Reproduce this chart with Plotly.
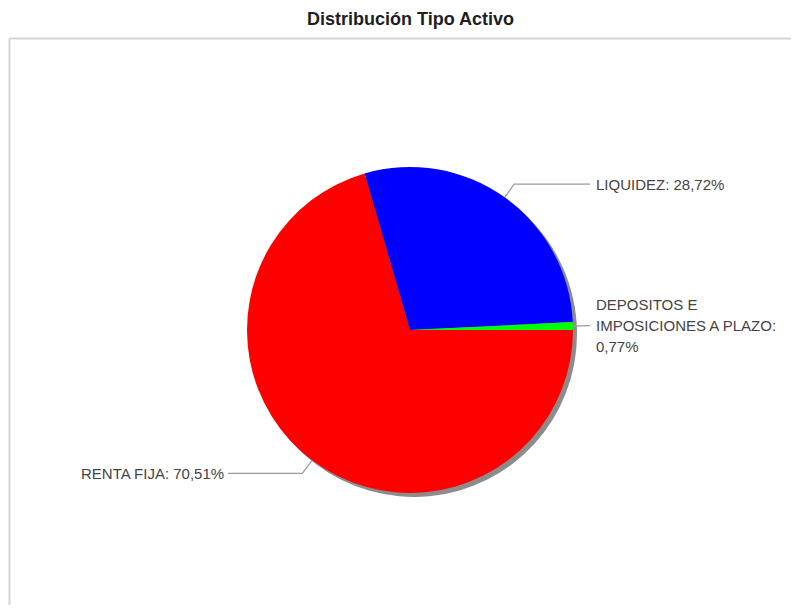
import math
import textwrap
import plotly.graph_objects as go

# ---- data ----
title_text = "Distribución Tipo Activo"
categories = ["RENTA FIJA", "LIQUIDEZ", "DEPOSITOS E IMPOSICIONES A PLAZO"]
values = [70.51, 28.72, 0.77]
colors = ["#ff0000", "#0000ff", "#00ff00"]

# ---- layout constants (pixels in the 799x613 window) ----
OFF = 8                      # page body margin
FW, FH = 799 - 2 * OFF, 613 - 2 * OFF
CX, CY, R = 410, 330, 163
SHADOW = 4
ELBOW = 1.1
RIGHT_LINE_END, RIGHT_TEXT_X = 590, 594
LEFT_LINE_END, LEFT_TEXT_X = 228, 226
LINE_GAP = 21
FONT = "Liberation Sans"


def px(x):
    return (x - OFF) / FW


def py(y):
    return 1 - (y - OFF) / FH


fig = go.Figure()

# shadow pie
fig.add_trace(go.Pie(
    values=values, labels=categories, sort=False,
    direction="clockwise", rotation=90,
    marker=dict(colors=["#8c8c8c"] * len(values), line=dict(width=0)),
    textinfo="none", hoverinfo="skip", showlegend=False,
    domain=dict(x=[px(CX - R + SHADOW), px(CX + R + SHADOW)],
                y=[py(CY + R + SHADOW), py(CY - R + SHADOW)]),
))

# main pie
fig.add_trace(go.Pie(
    values=values, labels=categories, sort=False,
    direction="clockwise", rotation=90,
    marker=dict(colors=colors, line=dict(width=0)),
    textinfo="none", showlegend=False,
    domain=dict(x=[px(CX - R), px(CX + R)],
                y=[py(CY + R), py(CY - R)]),
))

shapes = []
annotations = []

total = sum(values)
cum = 0.0
for cat, val in zip(categories, values):
    start = 90 + cum / total * 360
    mid = math.radians(start + val / total * 180)
    cum += val
    x0 = CX + R * math.sin(mid)
    y0 = CY - R * math.cos(mid)
    x1 = CX + R * ELBOW * math.sin(mid)
    y1 = CY - R * ELBOW * math.cos(mid)
    right = math.sin(mid) >= 0
    x2 = RIGHT_LINE_END if right else LEFT_LINE_END
    path = f"M {px(x0)} {py(y0)} L {px(x1)} {py(y1)} L {px(x2)} {py(y1)}"
    shapes.append(dict(type="path", xref="paper", yref="paper", path=path,
                       line=dict(color="#9a9a9a", width=1.2)))
    label = f"{cat}: {val:.2f}%".replace(".", ",")
    lines = textwrap.wrap(label, 21)
    n = len(lines)
    for i, ln in enumerate(lines):
        ly = y1 + (i - (n - 1) / 2) * LINE_GAP
        annotations.append(dict(
            x=px(RIGHT_TEXT_X if right else LEFT_TEXT_X), y=py(ly),
            xref="paper", yref="paper", text=ln, showarrow=False,
            xanchor="left" if right else "right", yanchor="middle",
            font=dict(family=FONT, size=15, color="#444444"),
        ))

# title
annotations.append(dict(
    x=px(410), y=py(19), xref="paper", yref="paper",
    text=f"<b>{title_text}</b>", showarrow=False,
    xanchor="center", yanchor="middle",
    font=dict(family=FONT, size=18, color="#1e1e1e"),
))

# chart border: only top and left edges are visible in the crop
border = dict(color="#d6d6d6", width=2)
shapes.append(dict(type="line", xref="paper", yref="paper",
                   x0=px(9.5), x1=1.2, y0=py(38.5), y1=py(38.5),
                   line=border, layer="below"))
shapes.append(dict(type="line", xref="paper", yref="paper",
                   x0=px(9.5), x1=px(9.5), y0=py(38.5), y1=-0.2,
                   line=border, layer="below"))

fig.update_layout(
    width=FW, height=FH, autosize=False,
    margin=dict(l=0, r=0, t=0, b=0),
    paper_bgcolor="white", plot_bgcolor="white",
    shapes=shapes, annotations=annotations,
    showlegend=False,
)

fig.write_html("out.html")
